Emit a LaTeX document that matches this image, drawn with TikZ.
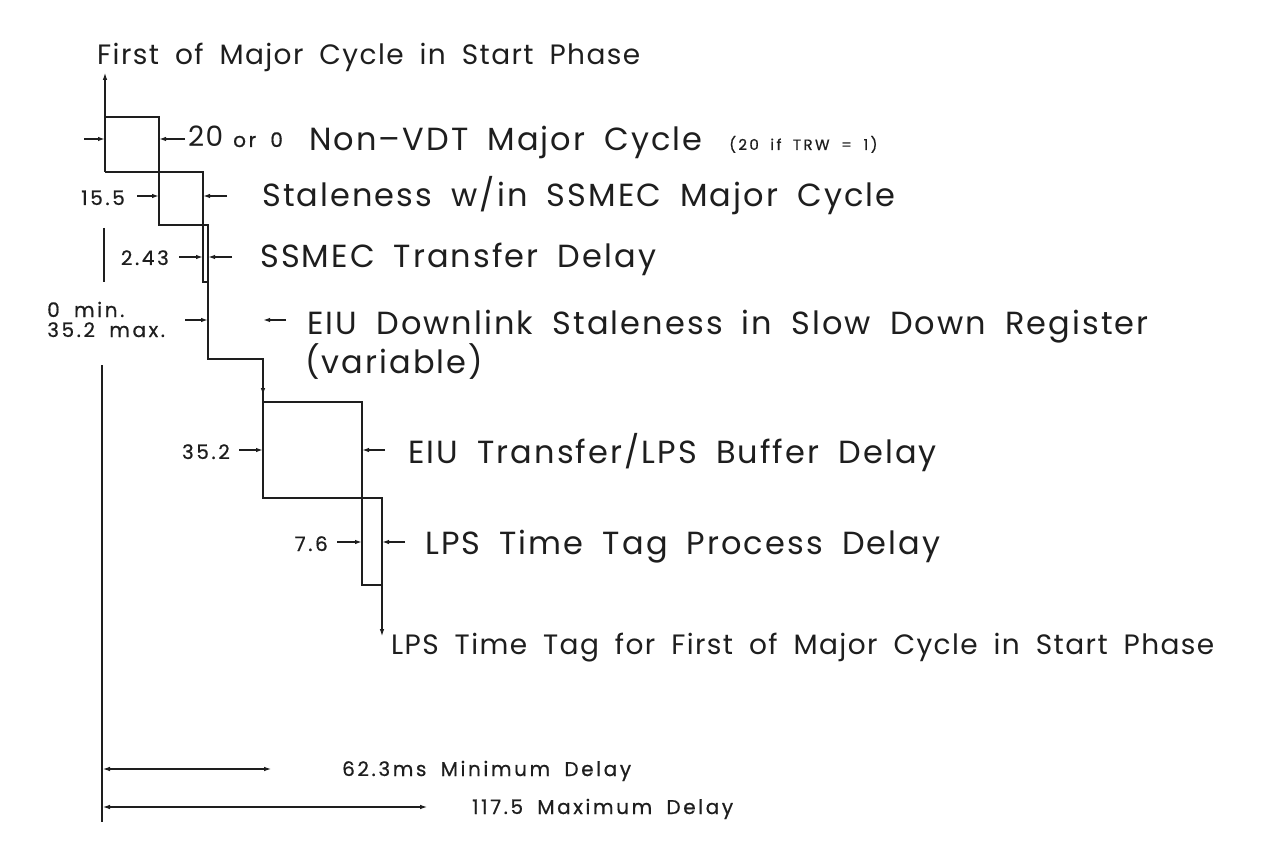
\documentclass[tikz,border=0pt]{standalone}
\usepackage{fontspec}
\setmainfont{Poppins}[WordSpace=1.8]
\usetikzlibrary{arrows.meta}
\definecolor{ink}{HTML}{1E1E1E}
\begin{document}
\begin{tikzpicture}[x=1pt,y=-1pt,
  ln/.style={line width=1.9pt, draw=ink},
  dimarrow/.style={line width=1.5pt, draw=ink, -{Latex[length=7pt,width=4.5pt]}},
  tip/.style={-{Latex[length=8pt,width=4.5pt]}},
  both/.style={line width=1.6pt, draw=ink, {Latex[length=8pt,width=4.5pt]}-{Latex[length=8pt,width=4.5pt]}},
  lbig/.style={anchor=base west, inner sep=0pt, text=ink, font=\fontsize{32}{38}\selectfont\addfontfeature{LetterSpace=6.5}},
  lmed/.style={anchor=base west, inner sep=0pt, text=ink, font=\fontsize{28}{33}\selectfont\addfontfeature{LetterSpace=5}},
  lsmall/.style={anchor=base west, inner sep=0pt, text=ink, font=\fontsize{20}{24}\selectfont\addfontfeature{LetterSpace=13,FakeBold=0.6}},
  lnum/.style={lsmall, anchor=base east},
  ltiny/.style={anchor=base west, inner sep=0pt, text=ink, font=\fontsize{15}{18}\selectfont\addfontfeature{LetterSpace=16,FakeBold=0.6}}]
\useasboundingbox[fill=white] (0,0) rectangle (1264,861);

% ---- step diagram ----
\coordinate (top) at (105,72);
\draw[ln,tip] (105,172) -- (top);
\draw[ln] (105,117) -- (159,117) -- (159,225) -- (208,225) -- (208,359) -- (263,359) -- (263,498) -- (382,498) -- (382,585);
\coordinate (endtip) at (382,637);
\draw[ln,tip] (382,585) -- (endtip);
\draw[ln] (105,172) -- (203,172) -- (203,282) -- (208,282);
\draw[ln] (263,402) -- (362,402) -- (362,585) -- (382,585);
\draw[ln,tip] (263,359) -- (263,396);

% reference line
\draw[ln] (104,228) -- (104,282);
\draw[ln] (102,365) -- (102,822);

% ---- dimension arrows ----
\draw[dimarrow] (84,139) -- (105,139);
\draw[dimarrow] (185,139) -- (159,139);
\draw[dimarrow] (137,196) -- (159,196);
\draw[dimarrow] (227,196) -- (203,196);
\draw[dimarrow] (179,257) -- (203,257);
\draw[dimarrow] (232,257) -- (208,257);
\draw[dimarrow] (185,320) -- (208,320);
\draw[dimarrow] (286,320) -- (263,320);
\draw[dimarrow] (239,450) -- (263,450);
\draw[dimarrow] (385,450) -- (362,450);
\draw[dimarrow] (337,542) -- (362,542);
\draw[dimarrow] (405,542) -- (382,542);

% ---- labels ----
\node[lmed] (head) at (97,65) {First of Major Cycle in Start Phase};
\node[lmed] (l20) at (188,147) {20};
\node[lsmall] (lor) at (233,147) {or 0};
\node[lbig] (nonvdt) at (309,151) {Non--VDT Major Cycle};
\node[ltiny] (trw) at (729,150) {(20 if TRW = 1)};
\node[lnum] (v155) at (125,205) {15.5};
\node[lbig] (stale) at (262,207) {Staleness w/in SSMEC Major Cycle};
\node[lnum] (v243) at (169,265) {2.43};
\node[lbig] (xfer) at (260,267) {SSMEC Transfer Delay};
\node[lsmall] (vmin) at (47,317) {0 min.};
\node[lsmall] (vmax) at (47,337) {35.2 max.};
\node[lbig] (eiu) at (307,334) {EIU Downlink Staleness in Slow Down Register};
\node[lbig] (var) at (305,373) {(variable)};
\node[lnum] (v352) at (230,459) {35.2};
\node[lbig] (buf) at (408,463) {EIU Transfer/LPS Buffer Delay};
\node[lnum] (v76) at (328,551) {7.6};
\node[lbig] (proc) at (425,554) {LPS Time Tag Process Delay};
\node[lmed] (final) at (391,654) {LPS Time Tag for First of Major Cycle in Start Phase};

% ---- bottom delays ----
\coordinate (minend) at (272,769);
\coordinate (maxend) at (428,807);
\draw[both] (102,769) -- (minend);
\draw[both] (102,807) -- (maxend);
\node[lsmall] (mind) at (342,776) {62.3ms Minimum Delay};
\node[lsmall] (maxd) at (472,814) {117.5 Maximum Delay};
\end{tikzpicture}
\end{document}
